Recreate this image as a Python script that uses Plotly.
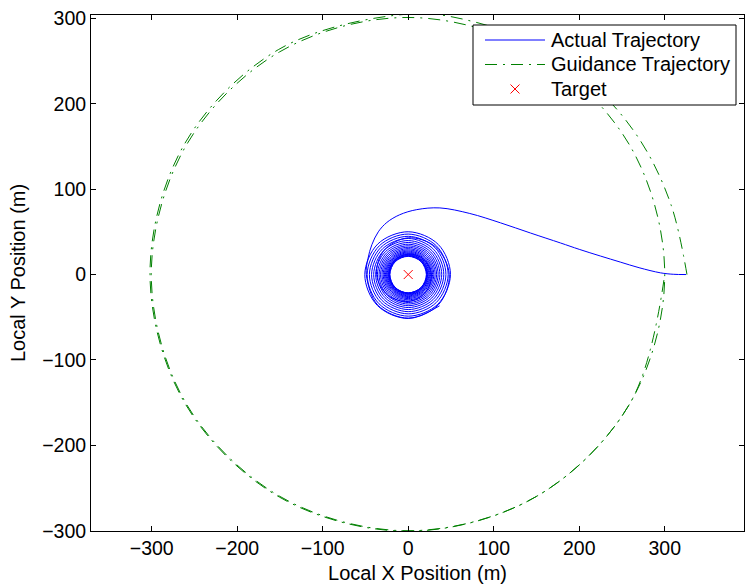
import numpy as np
import plotly.graph_objects as go

# ---- data ----
# Actual trajectory: approach leg (x, y in m) from the start point toward the target
approach_x = [325, 310, 295, 270, 248, 225, 200, 178, 143, 108, 72, 37, 10, -10, -25, -35, -42.5, -47]
approach_y = [0, 0.3, 2, 8, 14.6, 21.6, 29.5, 37, 48.6, 60.5, 71.5, 78, 76, 70, 61, 50, 35, 19]

# Actual trajectory: orbit around the target, radius (m) read every 45 deg starting at 180 deg (CCW)
spiral_start_deg = 180
spiral_step_deg = 45
spiral_r = [
    49.0, 50.5, 51.0, 50.0, 48.0, 45.5, 43.0, 40.0, 37.0, 34.0, 31.5, 29.0, 27.0,
    25.5, 24.0, 23.0, 22.3, 21.8, 21.5, 21.3, 21.2,
    21.25, 21.3, 21.35, 21.4, 21.45, 21.5, 21.55, 21.6,
    21.66, 21.73, 21.79, 21.85, 21.91, 21.98, 22.04, 22.1,
    22.18, 22.25, 22.33, 22.4, 22.48, 22.55, 22.63, 22.7,
    22.79, 22.88, 22.96, 23.05, 23.14, 23.23, 23.31, 23.4,
    23.5, 23.6, 23.7, 23.8, 23.9, 24.0, 24.1, 24.2,
    24.31, 24.43, 24.54, 24.65, 24.76, 24.88, 24.99, 25.1,
    25.23, 25.35, 25.48, 25.6, 25.73, 25.85, 25.98, 26.1,
    26.24, 26.38, 26.51, 26.65, 26.79, 26.93, 27.06, 27.2,
    27.36, 27.53, 27.69, 27.85, 28.01, 28.18, 28.34, 28.5,
    28.68, 28.85, 29.03, 29.2, 29.38, 29.55, 29.73, 29.9,
    30.1, 30.3, 30.5, 30.7, 30.9, 31.1, 31.3, 31.5,
    31.71, 31.93, 32.14, 32.35, 32.56, 32.78, 32.99, 33.2,
    33.43, 33.65, 33.88, 34.1, 34.33, 34.55, 34.78, 35.0,
    35.25, 35.5, 35.75, 36.0, 36.25, 36.5, 36.75, 37.0,
    37.28, 37.55, 37.83, 38.1, 38.38, 38.65, 38.93, 39.2,
    39.5, 39.8, 40.1, 40.4, 40.7, 41.0, 41.3, 41.6,
    41.91, 42.23, 42.54, 42.85, 43.16, 43.48, 43.79, 44.1,
    44.43, 44.75, 45.08, 45.4, 45.73, 46.05, 46.38, 46.7,
    47.04, 47.38, 47.71, 48.05, 48.39, 48.73, 49.06, 49.4,
    49.75, 50.1, 50.45, 50.8, 51.15, 51.5, 51.8,
]

# Guidance trajectory: angle (deg, CCW from +x) and radius (m)
guide_deg = [0, 15, 30, 45, 60, 75, 90, 120, 150, 180, 210, 240, 270, 300, 330, 360,
             390, 420, 450, 480, 510, 540, 570, 600, 630, 660, 690, 720]
guide_r = [326, 318, 313.5, 310, 307.5, 305.8, 305, 304, 303, 302, 301.5, 301, 300.5, 300, 300, 300,
           300, 300, 301, 301, 300.5, 300.5, 300.5, 300, 300, 300, 300, 300]

# Target location
target_x = [0]
target_y = [0]

# Legend labels
legend_labels = ["Actual Trajectory", "Guidance Trajectory", "Target"]

# ---- build traces ----
th = np.deg2rad(spiral_start_deg + spiral_step_deg * np.arange(len(spiral_r)))
sr = np.array(spiral_r)
actual_x = np.concatenate([approach_x, sr * np.cos(th)])
actual_y = np.concatenate([approach_y, sr * np.sin(th)])

gth = np.deg2rad(np.array(guide_deg, dtype=float))
gr = np.array(guide_r, dtype=float)
guide_x = gr * np.cos(gth)
guide_y = gr * np.sin(gth)

FONT = "Liberation Sans, Arial, Helvetica, sans-serif"
BLUE = "#0000ff"
GREEN = "#008000"
RED = "#ff0000"
GDASH = "12px,6px,2px,6px"

fig = go.Figure()
fig.add_trace(go.Scatter(
    x=actual_x, y=actual_y, mode="lines", name=legend_labels[0], showlegend=False,
    line=dict(color=BLUE, width=1, shape="spline", smoothing=1.0),
))
fig.add_trace(go.Scatter(
    x=guide_x, y=guide_y, mode="lines", name=legend_labels[1], showlegend=False,
    line=dict(color=GREEN, width=1, shape="spline", smoothing=1.0, dash=GDASH),
))
fig.add_trace(go.Scatter(
    x=target_x, y=target_y, mode="markers", name=legend_labels[2], showlegend=False,
    marker=dict(symbol="x-thin", size=9, color=RED, line=dict(color=RED, width=1)),
))

axis_common = dict(
    showline=True, linecolor="black", linewidth=1, mirror="ticks",
    ticks="inside", ticklen=5, tickcolor="black", tickwidth=1,
    showgrid=False, zeroline=False, dtick=100, tick0=0,
    tickfont=dict(family=FONT, size=19.5, color="black"),
)

# plot area in pixels
L, R, T, B = 91, 744, 15, 531
W, H = 746, 588


def px(xp):
    return (xp - L) / (R - L)


def py(yp):
    return (B - yp) / (B - T)


# ---- legend drawn in MATLAB style (box, samples, labels) ----
shapes = [
    dict(type="rect", xref="paper", yref="paper", x0=px(473), x1=px(736), y0=py(105), y1=py(25),
         line=dict(color="black", width=1), fillcolor="white", layer="above"),
]
rows_y = [40, 64.5, 89]
shapes.append(dict(type="line", xref="paper", yref="paper", x0=px(485), x1=px(545),
                   y0=py(rows_y[0]), y1=py(rows_y[0]), line=dict(color=BLUE, width=1), layer="above"))
shapes.append(dict(type="line", xref="paper", yref="paper", x0=px(485), x1=px(545),
                   y0=py(rows_y[1]), y1=py(rows_y[1]), line=dict(color=GREEN, width=1, dash=GDASH),
                   layer="above"))
cx, cy, hs = 515, rows_y[2], 4.5
shapes.append(dict(type="line", xref="paper", yref="paper", x0=px(cx - hs), x1=px(cx + hs),
                   y0=py(cy - hs), y1=py(cy + hs), line=dict(color=RED, width=1), layer="above"))
shapes.append(dict(type="line", xref="paper", yref="paper", x0=px(cx - hs), x1=px(cx + hs),
                   y0=py(cy + hs), y1=py(cy - hs), line=dict(color=RED, width=1), layer="above"))

annotations = [
    dict(text=lab, xref="paper", yref="paper", x=px(550), y=py(ry), xanchor="left", yanchor="middle",
         showarrow=False, font=dict(family=FONT, size=20, color="black"), borderpad=0)
    for lab, ry in zip(legend_labels, rows_y)
]

fig.update_layout(
    width=W, height=H,
    margin=dict(l=L, r=W - R, t=T, b=H - B, pad=0),
    paper_bgcolor="white", plot_bgcolor="white",
    font=dict(family=FONT, color="black"),
    xaxis=dict(range=[-371, 392.7], automargin=False,
               title=dict(text="Local X Position (m)", font=dict(family=FONT, size=20), standoff=7),
               **axis_common),
    yaxis=dict(range=[-300.3, 303.9], automargin=False,
               title=dict(text="Local Y Position (m)", font=dict(family=FONT, size=20), standoff=11),
               **axis_common),
    shapes=shapes,
    annotations=annotations,
    showlegend=False,
)

fig.write_html("out.html")
